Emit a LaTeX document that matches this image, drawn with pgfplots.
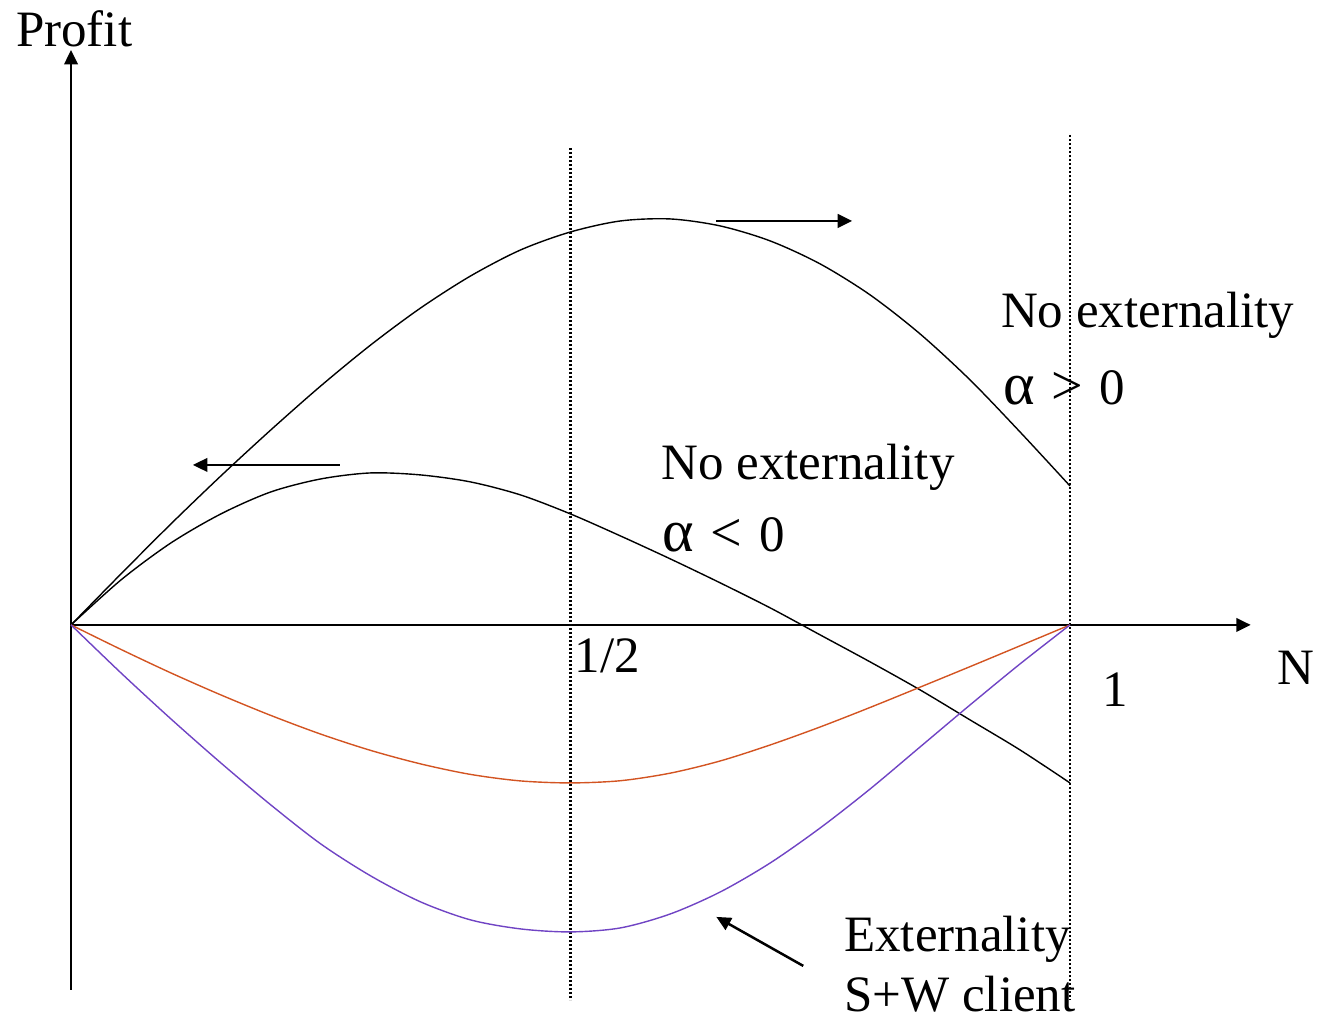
\documentclass[border=0pt]{standalone}
\usepackage{pgfplots}
\pgfplotsset{compat=1.18}
\usepackage{graphicx}
\usepackage{fontspec}
\setmainfont{Liberation Serif}
\usetikzlibrary{arrows.meta}
\definecolor{orangec}{RGB}{211,84,34}
\definecolor{purplec}{RGB}{112,68,196}
\begin{document}
\begin{tikzpicture}
\begin{axis}[
  x=199.8pt, y=200pt,
  xmin=-0.0711, xmax=1.2513, ymin=-0.397, ymax=0.625,
  hide axis, clip=false,
]
\path (axis cs:-0.0711,-0.397) rectangle (axis cs:1.2513,0.625);
% dotted verticals
\draw[line width=0.5pt, dash pattern=on 0.4pt off 0.4pt] (axis cs:0.5,0.477) -- (axis cs:0.5,-0.375);
\draw[line width=0.5pt, dash pattern=on 0.4pt off 0.4pt] (axis cs:1,0.49) -- (axis cs:1,-0.375);
% axes
\tikzset{arr/.style={line width=0.5pt, -{Triangle[length=2.9pt,width=2.7pt]}}}
\draw[arr] (axis cs:0,-0.365) -- (axis cs:0,0.575);
\draw[arr] (axis cs:0,0) -- (axis cs:1.181,0);
% curves
\addplot[black, line width=0.28pt, smooth] coordinates {
(0,0) (0.05,0.051) (0.10,0.101) (0.15,0.149) (0.20,0.195) (0.25,0.239)
(0.30,0.280) (0.35,0.317) (0.40,0.349) (0.45,0.375) (0.50,0.393)
(0.55,0.404) (0.60,0.406) (0.65,0.399) (0.70,0.384) (0.75,0.361)
(0.80,0.330) (0.85,0.291) (0.90,0.245) (0.95,0.193) (1.00,0.139)};
\addplot[black, line width=0.28pt, smooth] coordinates {
(0,0) (0.05,0.045) (0.10,0.082) (0.15,0.111) (0.20,0.133) (0.25,0.146)
(0.30,0.152) (0.35,0.150) (0.40,0.143) (0.45,0.130) (0.50,0.111)
(0.55,0.089) (0.60,0.066) (0.65,0.042) (0.70,0.017) (0.75,-0.010)
(0.80,-0.037) (0.85,-0.065) (0.90,-0.095) (0.95,-0.125) (1.00,-0.158)};
\addplot[orangec, line width=0.28pt, smooth] coordinates {
(0,0) (0.05,-0.0245) (0.10,-0.0480) (0.15,-0.0700) (0.20,-0.0905) (0.25,-0.1092)
(0.30,-0.1255) (0.35,-0.1390) (0.40,-0.1495) (0.45,-0.1560) (0.50,-0.1580)
(0.55,-0.1558) (0.60,-0.1482) (0.65,-0.1360) (0.70,-0.1200) (0.75,-0.1020)
(0.80,-0.0825) (0.85,-0.0622) (0.90,-0.0417) (0.95,-0.0209) (1.00,0)};
\addplot[purplec, line width=0.28pt, smooth] coordinates {
(0,0) (0.05,-0.048) (0.10,-0.094) (0.15,-0.138) (0.20,-0.180) (0.25,-0.219)
(0.30,-0.251) (0.35,-0.277) (0.40,-0.295) (0.45,-0.304) (0.50,-0.307)
(0.55,-0.303) (0.60,-0.289) (0.65,-0.267) (0.70,-0.238) (0.75,-0.203)
(0.80,-0.164) (0.85,-0.122) (0.90,-0.080) (0.95,-0.039) (1.00,0)};
% annotation arrows
\draw[arr] (axis cs:0.269,0.160) -- (axis cs:0.122,0.160);
\draw[arr] (axis cs:0.646,0.404) -- (axis cs:0.782,0.404);
\draw[arr] (axis cs:0.733,-0.341) -- (axis cs:0.646,-0.292);
% texts
\tikzset{lbl/.style={anchor=base west, inner sep=0pt, font=\fontsize{10.2}{12}\selectfont}}
\node[lbl] at (axis cs:-0.056,0.578) {Profit};
\node[lbl] at (axis cs:0.930,0.297) {No externality};
\node[lbl] at (axis cs:0.932,0.220) {\scalebox{1.18}{α}\hspace{0.8pt} \scalebox{1.1}{>}\hspace{0.8pt} 0};
\node[lbl] at (axis cs:0.590,0.145) {No externality};
\node[lbl] at (axis cs:0.591,0.073) {\scalebox{1.18}{α}\hspace{0.8pt} \scalebox{1.1}{<}\hspace{0.8pt} 0};
\node[lbl] at (axis cs:0.5035,-0.048) {1/2};
\node[lbl] at (axis cs:1.032,-0.082) {1};
\node[lbl] at (axis cs:1.207,-0.060) {N};
\node[lbl] at (axis cs:0.773,-0.327) {Externality};
\node[lbl] at (axis cs:0.773,-0.387) {S+W client};
\end{axis}
\end{tikzpicture}
\end{document}
